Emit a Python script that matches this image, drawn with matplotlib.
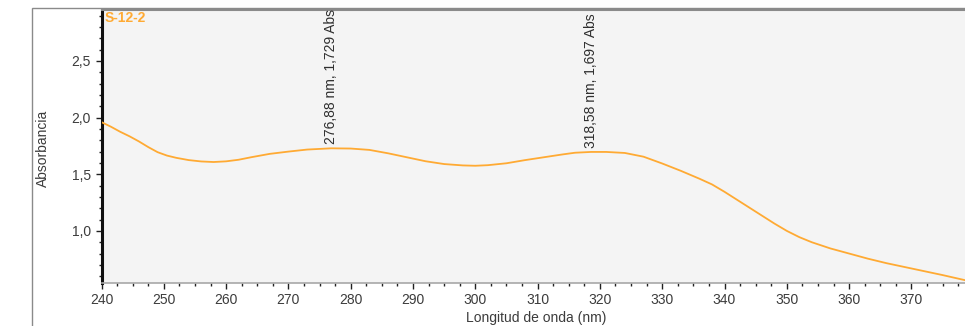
"""
UV-Vis absorbance spectrum of sample S-12-2, redrawn from an instrument screenshot.
"""

import matplotlib
matplotlib.use("Agg")
import matplotlib.pyplot as plt
import matplotlib.ticker as mticker
from matplotlib.patches import Rectangle

# ── Data ──────────────────────────────────────────────────────────────────────
SAMPLE = "S-12-2"

wavelength = [240, 241.5, 243, 244.5, 246, 247.5, 249, 250.5, 252, 254, 256,
              258, 260, 262, 264, 267, 270, 273, 276.88, 280, 283, 286, 289,
              292, 295, 298, 300, 302, 305, 308, 311, 314, 316, 318.58, 321,
              324, 327, 330, 333, 336, 338, 340, 342, 344, 346, 348, 350, 352,
              354, 357, 360, 363, 366, 369, 372, 375, 378.6]

absorbance = [1.96, 1.92, 1.875, 1.835, 1.79, 1.74, 1.695, 1.665, 1.645,
              1.625, 1.613, 1.608, 1.614, 1.628, 1.65, 1.68, 1.70, 1.718,
              1.729, 1.727, 1.715, 1.685, 1.65, 1.615, 1.59, 1.578, 1.575,
              1.58, 1.597, 1.625, 1.65, 1.675, 1.69, 1.697, 1.697, 1.688,
              1.655, 1.595, 1.53, 1.46, 1.41, 1.345, 1.275, 1.205, 1.135,
              1.065, 1.0, 0.945, 0.90, 0.845, 0.80, 0.755, 0.715, 0.68, 0.645,
              0.61, 0.565]

peak_nm = [276.88, 318.58]
peak_abs = [1.729, 1.697]

x_ticks = [240, 250, 260, 270, 280, 290, 300, 310, 320, 330, 340, 350, 360, 370]
y_ticks = [1.0, 1.5, 2.0, 2.5]

# ── Style ─────────────────────────────────────────────────────────────────────
LINE = "#FFAA33"
TEXT = "#3C3C3C"
PLOT_BG = "#F4F4F4"

plt.rcParams["font.family"] = ["Liberation Sans", "DejaVu Sans"]
plt.rcParams["font.size"] = 10

W, H = 965, 326
fig = plt.figure(figsize=(W / 100, H / 100), dpi=100)
fig.patch.set_facecolor("white")

# outer frame of the screenshot panel
fig.patches.append(Rectangle((32 / W, -0.2), 1.5, 1.2 - 8 / H,
                             transform=fig.transFigure, fill=False,
                             edgecolor="#8A8A8A", linewidth=1.0, zorder=0))

ax = fig.add_axes([101.5 / W, 1 - 283 / H, 1 - 101.5 / W, (283 - 10) / H])
ax.set_facecolor(PLOT_BG)

ax.plot(wavelength, absorbance, color=LINE, linewidth=1.3, zorder=3)

ax.set_xlim(240, 378.6)
ax.set_ylim(0.54, 2.95)

# ── Peak labels ───────────────────────────────────────────────────────────────
for nm, a in zip(peak_nm, peak_abs):
    lbl = f"{nm:.2f} nm, {a:.3f} Abs".replace(".", ",")
    ax.annotate(lbl, xy=(nm, a), xytext=(0, 3), textcoords="offset points",
                rotation=90, ha="center", va="bottom", color="#2E2E2E",
                fontsize=10)

ax.text(0.003, 0.998, SAMPLE, transform=ax.transAxes, ha="left", va="top",
        color=LINE, fontsize=10, fontweight="bold")

# ── Axes styling ──────────────────────────────────────────────────────────────
ax.set_xticks(x_ticks)
ax.set_yticks(y_ticks)
ax.xaxis.set_minor_locator(mticker.MultipleLocator(2.5))
ax.yaxis.set_minor_locator(mticker.MultipleLocator(0.1))
ax.xaxis.set_major_formatter(mticker.FuncFormatter(lambda v, _: f"{v:.0f}"))
ax.yaxis.set_major_formatter(
    mticker.FuncFormatter(lambda v, _: f"{v:.1f}".replace(".", ",")))

ax.tick_params(which="major", direction="out", length=4, width=1,
               colors="#202020", labelcolor=TEXT, labelsize=10, pad=3.5)
ax.tick_params(which="minor", direction="out", length=2.5, width=1,
               colors="#202020")

ax.spines["left"].set_color("#101010")
ax.spines["left"].set_linewidth(2.2)
ax.spines["bottom"].set_color("#A8A8A8")
ax.spines["bottom"].set_linewidth(1.2)
ax.spines["top"].set_color("#8A8A8A")
ax.spines["top"].set_linewidth(1.5)
ax.spines["right"].set_visible(False)

fig.text(536 / W, 1 - 318 / H, "Longitud de onda (nm)", ha="center",
         va="center", color=TEXT, fontsize=10)
fig.text(43 / W, 1 - 148 / H, "Absorbancia", ha="center", va="center",
         rotation=90, color=TEXT, fontsize=10)

fig.savefig("out.png", dpi=100, facecolor=fig.get_facecolor())
plt.close(fig)
